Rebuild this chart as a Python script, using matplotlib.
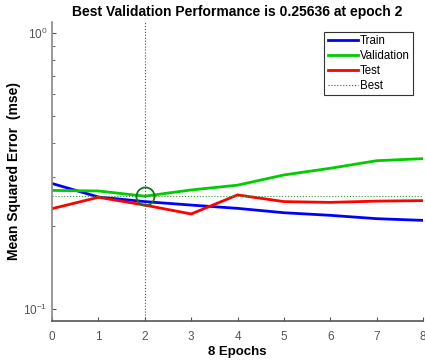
import matplotlib.pyplot as plt
import numpy as np

plt.rcParams['font.family'] = ['Liberation Sans', 'DejaVu Sans']
plt.rcParams['axes.unicode_minus'] = False

# Data
epochs = [0, 1, 2, 3, 4, 5, 6, 7, 8]
train = [0.285, 0.2546, 0.245, 0.238, 0.2316, 0.2233, 0.2185, 0.2125, 0.2095]
validation = [0.269, 0.2677, 0.25636, 0.270, 0.281, 0.306, 0.3235, 0.3446, 0.3506]
test = [0.231, 0.254, 0.238, 0.221, 0.259, 0.245, 0.2434, 0.246, 0.247]
best_epoch = 2
best_perf = 0.25636

fig = plt.figure(figsize=(4.25, 3.64), dpi=100)
ax = fig.add_axes([0.1224, 0.1181, 0.8729, 0.8215])

ax.semilogy(epochs, train, color='#0000ff', linewidth=2, label='Train')
ax.semilogy(epochs, validation, color='#00cc00', linewidth=2, label='Validation')
ax.semilogy(epochs, test, color='#ff0000', linewidth=2, label='Test')
ax.axhline(best_perf, color='#339933', linestyle=':', linewidth=0.8)
ax.axvline(best_epoch, color='#336633', linestyle=':', linewidth=0.8, label='Best')
ax.plot(best_epoch, best_perf, marker='o', markersize=13, markerfacecolor='none',
        markeredgecolor='#117711', markeredgewidth=1.3, linestyle='none')

ax.set_xlim(0, 8)
ax.set_ylim(0.0905, 1.096)
ax.set_xticks(epochs)
ax.tick_params(which='both', direction='in', colors='#555555', labelsize=8.5)
ax.tick_params(axis='x', pad=7)
ax.tick_params(which='major', length=3)
ax.tick_params(which='minor', length=2)
ax.spines['top'].set_visible(False)
ax.spines['right'].set_visible(False)
ax.spines['left'].set_color('#888888')
ax.spines['bottom'].set_color('#555555')
ax.spines['left'].set_linewidth(1.2)
ax.spines['bottom'].set_linewidth(1.2)

ax.set_title('Best Validation Performance is 0.25636 at epoch 2',
             fontsize=10, fontweight='bold', pad=4)
ax.set_xlabel('8 Epochs', fontsize=9.5, fontweight='bold', labelpad=2)
ax.set_ylabel('Mean Squared Error  (mse)', fontsize=10, fontweight='bold')
ax.yaxis.set_label_coords(-0.084, 0.5)

leg = ax.legend(loc='upper right', bbox_to_anchor=(0.973, 0.967), fontsize=8.3,
                fancybox=False, framealpha=1, edgecolor='#333333',
                handlelength=2.6, handletextpad=0.15, labelspacing=0.25,
                borderpad=0.3, borderaxespad=0)
leg.get_frame().set_linewidth(0.8)

fig.savefig('out.png', dpi=100)
